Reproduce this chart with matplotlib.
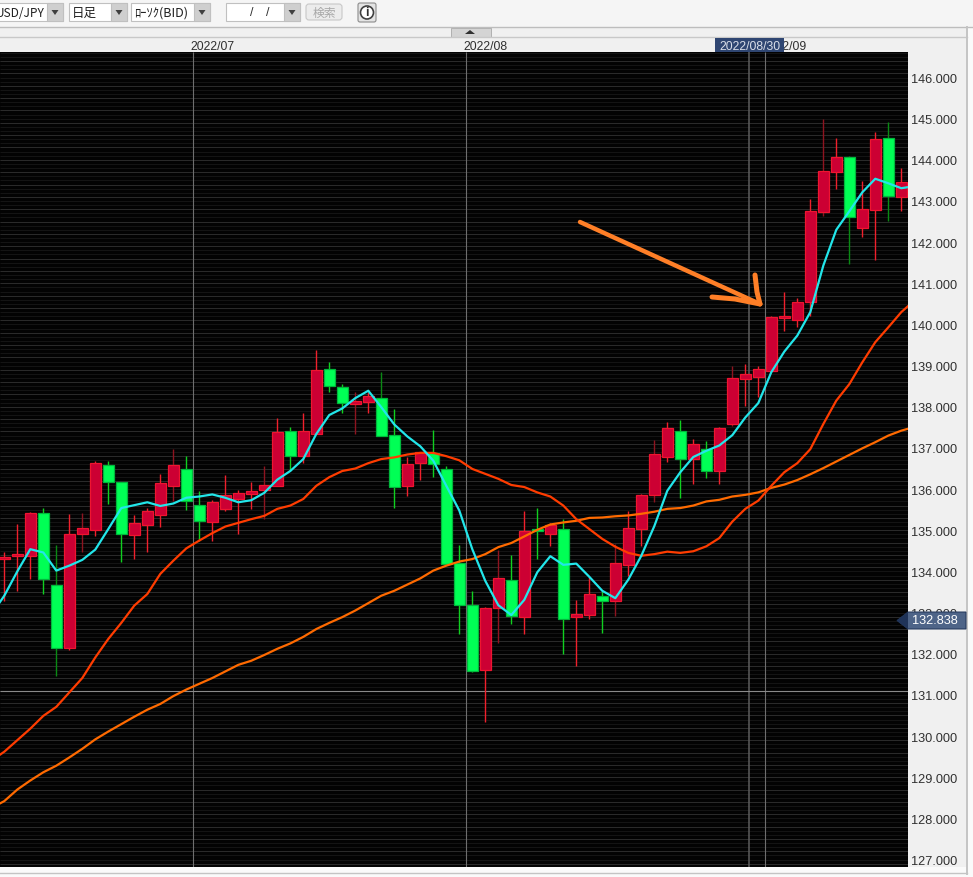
import matplotlib
matplotlib.use('Agg')
import matplotlib.pyplot as plt
from matplotlib.patches import Rectangle, FancyBboxPatch, Polygon, Circle
import numpy as np

plt.rcParams['font.family'] = ['Liberation Sans', 'Noto Sans CJK JP', 'DejaVu Sans']

# red = up, green = down
colors = ['r', 'r', 'r', 'g', 'g', 'r', 'r', 'r', 'g', 'g',
          'r', 'r', 'r', 'r', 'g', 'g', 'r', 'r', 'r', 'r',
          'r', 'r', 'g', 'r', 'r', 'g', 'g', 'r', 'r', 'g',
          'g', 'r', 'r', 'g', 'g', 'g', 'g', 'r', 'r', 'g',
          'r', 'g', 'r', 'g', 'r', 'r', 'g', 'r', 'r', 'r',
          'r', 'r', 'g', 'r', 'g', 'r', 'r', 'r', 'r', 'r',
          'r', 'r', 'r', 'r', 'r', 'g', 'r', 'r', 'g', 'r']
body_top = [134.35, 134.42, 135.41, 135.41, 133.66, 134.90, 135.06, 136.63, 136.59, 136.18,
            135.17, 135.46, 136.16, 136.58, 136.50, 135.61, 135.68, 135.85, 135.90, 135.96,
            136.09, 137.38, 137.40, 137.40, 138.89, 138.92, 138.47, 138.15, 138.25, 138.21,
            137.31, 136.61, 136.91, 136.88, 136.48, 134.21, 133.18, 133.10, 133.83, 133.79,
            134.97, 135.03, 135.12, 135.02, 132.96, 133.46, 133.40, 134.20, 135.06, 135.85,
            136.86, 137.49, 137.40, 137.09, 136.97, 137.49, 138.69, 138.79, 138.93, 140.18,
            140.20, 140.55, 142.76, 143.74, 144.06, 144.08, 142.80, 144.50, 144.53, 143.46]
body_bot = [134.29, 134.38, 134.38, 133.81, 132.15, 132.15, 134.92, 135.01, 136.17, 134.92,
            134.88, 135.12, 135.36, 136.08, 135.72, 135.23, 135.19, 135.52, 135.76, 135.89,
            135.97, 136.07, 136.81, 136.80, 137.33, 138.51, 138.10, 138.06, 138.12, 137.29,
            136.06, 136.07, 136.63, 136.60, 134.18, 133.19, 131.58, 131.60, 133.12, 132.92,
            132.89, 134.98, 134.90, 132.85, 132.89, 132.95, 133.27, 133.27, 134.16, 135.04,
            135.85, 136.79, 136.72, 136.72, 136.45, 136.43, 137.58, 138.68, 138.73, 138.88,
            140.15, 140.11, 140.55, 142.74, 143.71, 142.62, 142.34, 142.78, 143.13, 143.09]
highs = [134.46, 135.15, 135.44, 135.54, 134.65, 135.40, 135.42, 136.68, 136.68, 136.18,
         135.38, 135.54, 136.37, 136.97, 136.80, 135.96, 135.74, 136.34, 135.99, 136.18,
         136.57, 137.73, 137.50, 137.85, 139.38, 139.08, 138.55, 138.37, 138.35, 138.85,
         137.95, 136.77, 136.91, 137.44, 136.55, 134.65, 133.53, 133.14, 134.52, 134.39,
         135.46, 135.55, 135.18, 135.28, 133.30, 133.86, 133.53, 134.67, 135.47, 135.89,
         137.19, 137.62, 137.69, 137.22, 137.17, 137.52, 138.98, 139.05, 138.98, 140.21,
         140.78, 140.65, 143.05, 144.98, 144.52, 144.10, 143.49, 144.67, 144.93, 143.79]
lows = [133.29, 133.53, 133.82, 133.45, 131.47, 132.10, 134.48, 134.87, 135.64, 134.22,
        134.30, 134.48, 135.07, 135.72, 135.50, 134.75, 134.75, 135.48, 134.91, 135.52,
        135.27, 136.07, 136.45, 136.63, 137.33, 138.37, 137.86, 137.35, 137.86, 137.29,
        135.53, 135.84, 136.23, 136.29, 134.18, 132.48, 131.56, 130.35, 132.26, 132.72,
        132.48, 134.30, 134.62, 131.99, 131.69, 132.84, 132.50, 132.91, 133.88, 134.61,
        135.68, 136.65, 135.78, 136.12, 136.28, 136.12, 137.54, 138.01, 138.23, 138.88,
        139.83, 139.93, 140.21, 142.63, 143.28, 141.47, 142.13, 141.57, 142.52, 142.75]

# moving averages, index -1 .. 70
ma_fast = [132.95, 133.41, 134.00, 134.54, 134.46, 134.02, 134.14, 134.28, 134.53, 135.03, 135.54,
           135.61, 135.68, 135.59, 135.65, 135.79, 135.82, 135.87, 135.79, 135.68, 135.73,
           135.91, 136.23, 136.44, 136.73, 137.34, 137.80, 137.96, 138.21, 138.39, 137.99,
           137.57, 137.28, 137.04, 136.69, 136.08, 135.48, 134.54, 133.77, 133.18, 132.94,
           133.31, 133.98, 134.37, 134.16, 134.19, 133.87, 133.53, 133.35, 133.80, 134.38,
           135.10, 135.96, 136.41, 136.78, 136.93, 137.06, 137.31, 137.74, 138.09, 138.84,
           139.34, 139.73, 140.30, 141.43, 142.30, 142.75, 143.21, 143.54, 143.43, 143.31, 143.36]
ma_mid = [129.40, 129.62, 129.90, 130.18, 130.49, 130.71, 131.06, 131.41, 131.91, 132.36, 132.75,
          133.17, 133.45, 133.94, 134.26, 134.56, 134.75, 134.93, 135.09, 135.18, 135.27,
          135.35, 135.52, 135.60, 135.76, 136.08, 136.29, 136.44, 136.50, 136.63, 136.73,
          136.77, 136.84, 136.88, 136.88, 136.80, 136.70, 136.49, 136.37, 136.25, 136.10,
          136.05, 135.92, 135.82, 135.60, 135.27, 135.03, 134.79, 134.60, 134.45, 134.38,
          134.42, 134.48, 134.45, 134.49, 134.61, 134.81, 135.21, 135.52, 135.72, 136.08,
          136.41, 136.63, 136.97, 137.58, 138.15, 138.55, 139.08, 139.57, 139.93, 140.30, 140.58]
ma_slow = [128.25, 128.42, 128.70, 128.92, 129.12, 129.28, 129.48, 129.69, 129.92, 130.11, 130.29,
           130.47, 130.64, 130.78, 130.97, 131.13, 131.27, 131.41, 131.57, 131.73, 131.83,
           131.97, 132.12, 132.25, 132.41, 132.60, 132.75, 132.89, 133.05, 133.23, 133.41,
           133.53, 133.68, 133.83, 134.02, 134.14, 134.24, 134.30, 134.42, 134.59, 134.69,
           134.85, 135.01, 135.14, 135.19, 135.23, 135.30, 135.31, 135.34, 135.36, 135.40,
           135.45, 135.52, 135.54, 135.60, 135.70, 135.74, 135.82, 135.86, 135.92, 136.03,
           136.11, 136.22, 136.36, 136.51, 136.67, 136.83, 136.99, 137.14, 137.30, 137.42, 137.51]

price_ticks = [146, 145, 144, 143, 142, 141, 140, 139, 138, 137,
               136, 135, 134, 133, 132, 131, 130, 129, 128, 127]
month_pos = [14.5, 35.5, 58.5]
month_labels = ['2022/07', '2022/08', '2022/09']
cursor_x = 57.3
cursor_price = 131.09
cursor_label = '2022/08/30'
last_price = 132.838

W, H = 973, 878
fig = plt.figure(figsize=(W / 100, H / 100), dpi=100, facecolor='#f0f0f0')

# page furniture in pixel coordinates
bg = fig.add_axes([0, 0, 1, 1], zorder=0)
bg.set_xlim(0, W)
bg.set_ylim(H, 0)
bg.axis('off')
bg.add_patch(Rectangle((0, 0), W, 28, color='#f5f5f5', lw=0))
bg.add_patch(Rectangle((0, 38), 967, 15, color='#f0f0f0', lw=0))
bg.add_patch(Rectangle((967, 28), 6, 850, color='#fafafa', lw=0))
bg.add_patch(Rectangle((0, 868), W, 10, color='#fafafa', lw=0))
bg.plot([0, W], [28, 28], color='#bdbdbd', lw=1)
bg.plot([0, 967], [38, 38], color='#c8c8c8', lw=1)
bg.plot([967, 967], [28, 875], color='#c4c4c4', lw=1.4)
bg.plot([0, 967], [874.5, 874.5], color='#c4c4c4', lw=1)

# collapse button
bg.add_patch(Rectangle((451, 28.5), 40, 9.5, fc='#d4d4d4', ec='#b0b0b0', lw=0.7))
bg.add_patch(Polygon([[465, 35], [475, 35], [470, 31]], color='#303030', lw=0))


def combo(x0, x1, label, text_x, btn=16, size=9):
    bg.add_patch(Rectangle((x0, 4), x1 - x0, 18, fc='white', ec='#c0c0c0', lw=0.8))
    bg.add_patch(Rectangle((x1 - btn, 4), btn, 18, fc='#cfcfcf', ec='#c0c0c0', lw=0.8))
    bg.add_patch(Polygon([[x1 - btn / 2 - 3.5, 11], [x1 - btn / 2 + 3.5, 11], [x1 - btn / 2, 16]],
                         color='#404040', lw=0))
    bg.text(text_x, 13.5, label, fontsize=size, color='#202020', va='center', ha='left',
            family=['Noto Sans CJK JP', 'DejaVu Sans'], clip_on=True)


combo(-3, 63, 'USD/JPY', -4, size=8.6)
combo(69, 127, '日足', 72)
combo(131, 210, 'ﾛｰｿｸ(BID)', 134)
combo(226, 300, '', 250)
bg.text(252, 13, '/', fontsize=9, color='#303030', ha='center', va='center')
bg.text(268, 13, '/', fontsize=9, color='#303030', ha='center', va='center')
bg.add_patch(FancyBboxPatch((306, 5), 36, 16, boxstyle='round,pad=0,rounding_size=3',
                            fc='#ececec', ec='#c8c8c8', lw=0.8))
bg.text(324, 13.5, '検索', fontsize=8.5, color='#a8a8a8', ha='center', va='center',
        family=['Noto Sans CJK JP', 'DejaVu Sans'])
bg.add_patch(FancyBboxPatch((358, 4), 18, 19, boxstyle='round,pad=0,rounding_size=2',
                            fc='#e4e4e4', ec='#8c8c8c', lw=0.8))
bg.add_patch(Circle((367, 13.5), 6.5, fc='white', ec='#404040', lw=1.2))
bg.text(367, 13.5, 'i', fontsize=9, fontweight='bold', color='#303030', ha='center', va='center')

# chart itself, 13 px per candle
ax = fig.add_axes([0, (H - 868) / H, 908 / W, 815 / H], zorder=1)
ax.set_facecolor('#030303')
ax.set_xlim((0 - 4.3) / 13, (908 - 4.3) / 13)
ax.set_ylim(146 - (868 - 78.5) / 41.16, 146 + (78.5 - 53) / 41.16)
for s in ax.spines.values():
    s.set_visible(False)

stripes = np.arange(126.9, 146.65, 0.1)
ax.hlines(stripes, ax.get_xlim()[0], ax.get_xlim()[1], color='#141414', lw=0.72, zorder=1)
ax.hlines(stripes[::3], ax.get_xlim()[0], ax.get_xlim()[1], color='#2a2a2a', lw=0.72, zorder=1)
ax.vlines(month_pos, *ax.get_ylim(), color='#6e6e6e', lw=0.8, zorder=2)
ax.vlines(cursor_x, *ax.get_ylim(), color='#5c5c5c', lw=1.1, zorder=2)
ax.hlines(cursor_price, *ax.get_xlim(), color='#8a8a8a', lw=0.8, zorder=2)

xs = np.arange(len(colors))
dim_wicks = [4, 6, 13, 20, 27, 29, 38, 47, 50, 56, 63, 65, 68]
for i in xs:
    up = colors[i] == 'r'
    if i in dim_wicks:
        wick = '#8e1420' if up else '#0a8a14'
    else:
        wick = '#f0202c' if up else '#10d020'
    ax.vlines(i, lows[i], highs[i], color=wick, lw=1.0, zorder=3)
fills = ['#cc0033' if c == 'r' else '#00ff55' for c in colors]
edges = ['#ee1530' if c == 'r' else '#00b83c' for c in colors]
ax.bar(xs, np.array(body_top) - np.array(body_bot), bottom=body_bot, width=0.86,
       color=fills, edgecolor=edges, linewidth=0.9, zorder=4)

ma_x = np.arange(-1, 71)
ax.plot(ma_x, ma_slow, color='#ff6a00', lw=1.6, zorder=5)
ax.plot(ma_x, ma_mid, color='#ff3c00', lw=1.6, zorder=5)
ax.plot(ma_x, ma_fast, color='#22e6ea', lw=1.6, zorder=6)

ax.yaxis.tick_right()
ax.set_yticks(price_ticks)
ax.set_yticklabels(['%.3f' % p for p in price_ticks], fontsize=9.2, color='#303030')
ax.tick_params(axis='y', length=0, pad=2.5)
ax.set_xticks([])
for pos, lab in zip(month_pos, month_labels):
    ax.annotate(lab, xy=(pos, 1), xycoords=ax.get_xaxis_transform(), xytext=(-2, 0),
                textcoords='offset points', fontsize=8.8, color='#303030', ha='left',
                va='bottom', annotation_clip=False)

# things drawn over the chart
top = fig.add_axes([0, 0, 1, 1], zorder=2)
top.set_xlim(0, W)
top.set_ylim(H, 0)
top.axis('off')
top.patch.set_alpha(0)

top.add_patch(Rectangle((715, 39), 69, 14, color='#2f4672', lw=0))
top.text(749.5, 46.5, cursor_label, fontsize=8.8, color='#d8dde8', ha='center', va='center')
top.add_patch(Polygon([[897, 621.5], [908, 613], [966, 613], [966, 630], [908, 630]],
                      fc='#4e6488', ec='#1f3358', lw=0.7))
top.add_patch(Polygon([[897, 621.5], [908, 613], [908, 630]], fc='#1f3358', lw=0))
top.text(935, 621.5, '%.3f' % last_price, fontsize=9.2, color='white', ha='center', va='center')

# hand drawn arrow
pen = '#ff7f27'
top.plot([580, 760], [223, 305], color=pen, lw=3.2, solid_capstyle='round')
top.plot([712, 735, 760], [298, 300, 305], color=pen, lw=3.6, solid_capstyle='round')
top.plot([755, 757, 760], [276, 293, 305], color=pen, lw=3.6, solid_capstyle='round')

fig.savefig('out.png', dpi=100, facecolor=fig.get_facecolor())
